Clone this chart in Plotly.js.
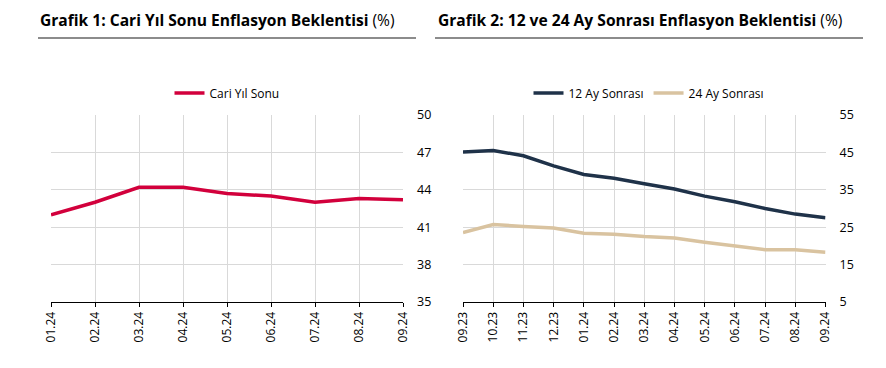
<!DOCTYPE html>
<html>
<head>
<meta charset="utf-8">
<script src="https://cdn.plot.ly/plotly-3.0.1.min.js"></script>
<style>
html,body{margin:0;padding:0;background:#fff;}
#chart{width:886px;height:368px;}
</style>
</head>
<body>
<div id="chart"></div>
<script>
// Chart 1 data
const months1 = ["01.24","02.24","03.24","04.24","05.24","06.24","07.24","08.24","09.24"];
const cariYilSonu = [42.0, 43.0, 44.2, 44.2, 43.7, 43.5, 43.0, 43.3, 43.2];

// Chart 2 data
const months2 = ["09.23","10.23","11.23","12.23","01.24","02.24","03.24","04.24","05.24","06.24","07.24","08.24","09.24"];
const ay12 = [45.1, 45.5, 44.1, 41.4, 39.1, 38.1, 36.6, 35.2, 33.3, 31.8, 30.0, 28.5, 27.5];
const ay24 = [23.6, 25.7, 25.2, 24.8, 23.4, 23.1, 22.5, 22.1, 21.0, 20.0, 19.0, 19.0, 18.3];

const W = 886, H = 368;
const px = v => v / W;
const py = v => 1 - v / H;
const FONT = "Open Sans";

const traces = [
  {x: months1, y: cariYilSonu, type: "scatter", mode: "lines", name: "Cari Yıl Sonu",
   line: {color: "#D2003C", width: 3.5}, xaxis: "x", yaxis: "y", legend: "legend"},
  {x: months2, y: ay12, type: "scatter", mode: "lines", name: "12 Ay Sonrası",
   line: {color: "#1F3249", width: 3.5}, xaxis: "x2", yaxis: "y2", legend: "legend2"},
  {x: months2, y: ay24, type: "scatter", mode: "lines", name: "24 Ay Sonrası",
   line: {color: "#D9C3A0", width: 3.5}, xaxis: "x2", yaxis: "y2", legend: "legend2"}
];

const xCommon = {
  type: "category", showgrid: true, gridcolor: "#D9D9D9", gridwidth: 1,
  showline: true, linecolor: "#000", linewidth: 1,
  ticks: "outside", ticklen: 4, tickcolor: "#000", tickangle: -90,
  tickfont: {family: FONT, size: 12, color: "#000"}, zeroline: false, fixedrange: true
};
const yCommon = {
  side: "right", showgrid: true, gridcolor: "#D9D9D9", gridwidth: 1,
  showline: false, zeroline: false, ticks: "", ticklabelstandoff: 13,
  tickfont: {family: FONT, size: 12.5, color: "#000"}, fixedrange: true
};

const layout = {
  width: W, height: H,
  margin: {l: 0, r: 0, t: 0, b: 0},
  paper_bgcolor: "#fff", plot_bgcolor: "#fff",
  font: {family: FONT, color: "#000"},
  showlegend: true,
  xaxis: Object.assign({}, xCommon, {domain: [px(51), px(403)], range: [0, months1.length - 1], anchor: "y"}),
  yaxis: Object.assign({}, yCommon, {domain: [py(302), py(115)], range: [35, 50], dtick: 3, tick0: 35, anchor: "x"}),
  xaxis2: Object.assign({}, xCommon, {domain: [px(463), px(825.5)], range: [0, months2.length - 1], anchor: "y2"}),
  yaxis2: Object.assign({}, yCommon, {domain: [py(302), py(115)], range: [5, 55], dtick: 10, tick0: 5, anchor: "x2"}),
  legend: {orientation: "h", x: px(227), xanchor: "center", y: py(93), yanchor: "middle",
           font: {family: FONT, size: 12, color: "#000"}, bgcolor: "rgba(0,0,0,0)"},
  legend2: {orientation: "h", x: px(649), xanchor: "center", y: py(93), yanchor: "middle",
           font: {family: FONT, size: 12, color: "#000"}, bgcolor: "rgba(0,0,0,0)"},
  annotations: [
    {text: "<b>Grafik 1: Cari Yıl Sonu Enflasyon Beklentisi</b> (%)", xref: "paper", yref: "paper",
     x: px(38), y: py(20), xanchor: "left", yanchor: "middle", showarrow: false,
     font: {family: FONT, size: 15.6, color: "#000"}},
    {text: "<b>Grafik 2: 12 ve 24 Ay Sonrası Enflasyon Beklentisi</b> (%)", xref: "paper", yref: "paper",
     x: px(436), y: py(20), xanchor: "left", yanchor: "middle", showarrow: false,
     font: {family: FONT, size: 15.6, color: "#000"}}
  ],
  shapes: [
    {type: "line", xref: "paper", yref: "paper", x0: px(38), x1: px(416), y0: py(38), y1: py(38),
     line: {color: "#666", width: 1.5}},
    {type: "line", xref: "paper", yref: "paper", x0: px(435), x1: px(863), y0: py(38), y1: py(38),
     line: {color: "#666", width: 1.5}}
  ]
};

Plotly.newPlot("chart", traces, layout, {displayModeBar: false, staticPlot: true});
</script>
</body>
</html>
